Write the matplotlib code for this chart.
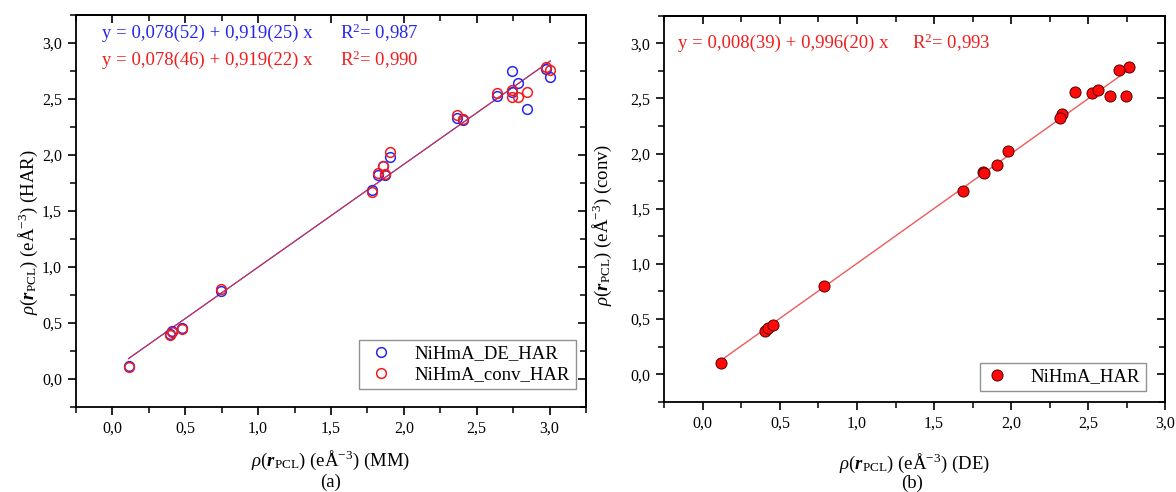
import numpy as np
import matplotlib
matplotlib.use("Agg")
import matplotlib.pyplot as plt
from matplotlib.ticker import MultipleLocator, FuncFormatter

# rho(r_PCL) values, one row per critical point
mm = [0.111, 0.396, 0.409, 0.479, 0.746, 1.782, 1.821, 1.860, 1.873, 1.907,
      2.365, 2.404, 2.637, 2.741, 2.741, 2.780, 2.845, 2.974, 3.005]
de_har = [0.115, 0.400, 0.425, 0.452, 0.786, 1.690, 1.819, 1.905, 1.822, 1.982,
          2.333, 2.314, 2.527, 2.564, 2.746, 2.641, 2.411, 2.765, 2.697]
conv_har = [0.105, 0.390, 0.420, 0.445, 0.798, 1.665, 1.835, 1.900, 1.828, 2.024,
            2.355, 2.323, 2.550, 2.579, 2.521, 2.518, 2.560, 2.787, 2.756]

# fitted lines as given in the panels
fit_de = (0.078, 0.919)
fit_conv = (0.078, 0.919)
fit_b = (0.008, 0.996)

eq_de = "y = 0,078(52) + 0,919(25) x"
eq_conv = "y = 0,078(46) + 0,919(22) x"
eq_b = "y = 0,008(39) + 0,996(20) x"
r2_de = "R$^2$= 0,987"
r2_conv = "R$^2$= 0,990"
r2_b = "R$^2$= 0,993"

BLUE = "#2626f0"
RED = "#f21c1c"

plt.rcParams["font.family"] = ["Liberation Serif", "DejaVu Serif"]
plt.rcParams["mathtext.fontset"] = "custom"
plt.rcParams["mathtext.rm"] = "Liberation Serif"
plt.rcParams["mathtext.it"] = "Liberation Serif:italic"
plt.rcParams["mathtext.bf"] = "Liberation Serif:bold"
plt.rcParams["mathtext.bfit"] = "Liberation Serif:bold:italic"

comma = FuncFormatter(lambda v, p: f"{v:.1f}".replace(".", ","))


def style_axes(ax, xmax):
    ax.set_xlim(-0.25, xmax)
    ax.set_ylim(-0.25, 3.25)
    for s in ax.spines.values():
        s.set_linewidth(1.3)
    for axis in (ax.xaxis, ax.yaxis):
        axis.set_major_locator(MultipleLocator(0.5))
        axis.set_minor_locator(MultipleLocator(0.25))
        axis.set_major_formatter(comma)
    ax.tick_params(which="major", direction="out", length=6, width=1.2,
                   labelsize=11.5, pad=4)
    ax.tick_params(which="minor", direction="out", length=4, width=1.1)
    # inward ticks on the top and right frame
    top = ax.secondary_xaxis("top")
    right = ax.secondary_yaxis("right")
    for sec, axis in ((top, top.xaxis), (right, right.yaxis)):
        axis.set_major_locator(MultipleLocator(0.5))
        axis.set_minor_locator(MultipleLocator(0.25))
        sec.tick_params(which="major", direction="in", length=6, width=1.2)
        sec.tick_params(which="minor", direction="in", length=4, width=1.1)
        sec.tick_params(which="both", labeltop=False, labelright=False)
        for s in sec.spines.values():
            s.set_linewidth(1.3)


fig = plt.figure(figsize=(11.76, 4.92), dpi=100)
ax1 = fig.add_axes([0.0646, 0.1734, 0.4337, 0.7961])
ax2 = fig.add_axes([0.5649, 0.1835, 0.4260, 0.7846])

# (a) HAR vs MM
style_axes(ax1, 3.25)
xl = np.array([min(mm), max(mm)])
ax1.plot(xl, fit_de[0] + fit_de[1] * xl, color=BLUE, lw=0.8)
ax1.plot(xl, fit_conv[0] + fit_conv[1] * xl, color="#d8304a", lw=0.8)
ax1.plot(mm, de_har, "o", ls="none", mfc="none", mec=BLUE, ms=7, mew=1.1,
         label="NiHmA_DE_HAR")
ax1.plot(mm, conv_har, "o", ls="none", mfc="none", mec=RED, ms=7, mew=1.1,
         label="NiHmA_conv_HAR")
ax1.text(0.051, 0.954, eq_de, color=BLUE, fontsize=13.5, va="center",
         transform=ax1.transAxes)
ax1.text(0.518, 0.954, r2_de, color=BLUE, fontsize=13.5, va="center",
         transform=ax1.transAxes)
ax1.text(0.051, 0.885, eq_conv, color=RED, fontsize=13.5, va="center",
         transform=ax1.transAxes)
ax1.text(0.518, 0.885, r2_conv, color=RED, fontsize=13.5, va="center",
         transform=ax1.transAxes)
leg1 = ax1.legend(loc="lower right", bbox_to_anchor=(0.98, 0.045),
                  borderaxespad=0, fontsize=13.5, numpoints=1, fancybox=False,
                  edgecolor="#777777", handlelength=1.8, handletextpad=0.9,
                  borderpad=0.3, labelspacing=0.2)
leg1.get_frame().set_linewidth(1.0)
ax1.set_xlabel(r"$\rho(\mathbfit{r}_{\mathrm{PCL}})$ (e$\mathrm{\AA}^{-3}$) (MM)",
               fontsize=13.5, va="center")
ax1.xaxis.set_label_coords(0.5, -0.136)
ax1.set_ylabel(r"$\rho(\mathbfit{r}_{\mathrm{PCL}})$ (e$\mathrm{\AA}^{-3}$) (HAR)",
               fontsize=13.5, va="center")
ax1.yaxis.set_label_coords(-0.094, 0.446)
fig.text(331 / 1176, 1 - 482 / 492, "(a)", fontsize=13.5, ha="center", va="center")

# (b) conv vs DE
style_axes(ax2, 3.0)
xb = np.array([min(de_har), max(de_har)])
ax2.plot(xb, fit_b[0] + fit_b[1] * xb, color="#ee5a5a", lw=1.0)
ax2.plot(de_har, conv_har, "o", ls="none", mfc="#ff0a0a", mec="#5a0000",
         ms=8, mew=0.7, label="NiHmA_HAR")
ax2.text(0.028, 0.929, eq_b, color=RED, fontsize=13.5, va="center",
         transform=ax2.transAxes)
ax2.text(0.494, 0.929, r2_b, color=RED, fontsize=13.5, va="center",
         transform=ax2.transAxes)
leg2 = ax2.legend(loc="lower right", bbox_to_anchor=(0.961, 0.028),
                  borderaxespad=0, fontsize=13.5, numpoints=1, fancybox=False,
                  edgecolor="#777777", handlelength=1.2, handletextpad=1.2,
                  borderpad=0.3)
leg2.get_frame().set_linewidth(1.0)
ax2.set_xlabel(r"$\rho(\mathbfit{r}_{\mathrm{PCL}})$ (e$\mathrm{\AA}^{-3}$) (DE)",
               fontsize=13.5, va="center")
ax2.xaxis.set_label_coords(0.5, -0.159)
ax2.set_ylabel(r"$\rho(\mathbfit{r}_{\mathrm{PCL}})$ (e$\mathrm{\AA}^{-3}$) (conv)",
               fontsize=13.5, va="center")
ax2.yaxis.set_label_coords(-0.124, 0.458)
fig.text(912 / 1176, 1 - 483 / 492, "(b)", fontsize=13.5, ha="center", va="center")

fig.savefig("out.png", dpi=100)
